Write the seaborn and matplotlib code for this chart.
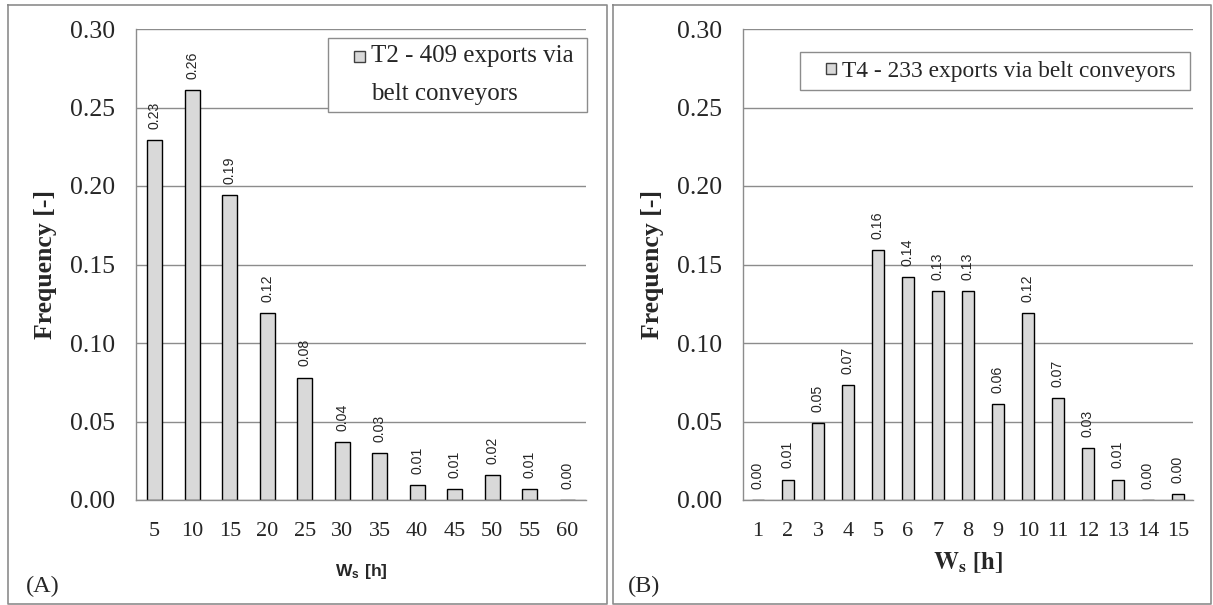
import numpy as np
import pandas as pd
import matplotlib
matplotlib.use("Agg")
import matplotlib.pyplot as plt
import seaborn as sns
from matplotlib.patches import Rectangle
from matplotlib.legend_handler import HandlerPatch
from matplotlib.lines import Line2D
from matplotlib.ticker import FixedLocator, FormatStrFormatter

# Terminal T2: waiting-time classes [h] and relative frequency
t2_bins = [5, 10, 15, 20, 25, 30, 35, 40, 45, 50, 55, 60]
t2_freq = [0.229, 0.261, 0.194, 0.119, 0.078, 0.037, 0.030, 0.0095, 0.007, 0.016, 0.007, 0.000]
t2_legend = "T2 - 409 exports via \nbelt conveyors"

# Terminal T4: waiting-time classes [h] and relative frequency
t4_bins = [1, 2, 3, 4, 5, 6, 7, 8, 9, 10, 11, 12, 13, 14, 15]
t4_freq = [0.000, 0.013, 0.049, 0.073, 0.159, 0.142, 0.133, 0.133, 0.061, 0.119, 0.065, 0.033, 0.013, 0.000, 0.004]
t4_legend = "T4 - 233 exports via belt conveyors "

y_ticks = [0.00, 0.05, 0.10, 0.15, 0.20, 0.25, 0.30]
y_label = "Frequency [-]"
x_label = r"$\mathbf{W_s\ [h]}$"
panel_tags = ["(A)", "(B)"]

sns.set_style("white")
plt.rcParams["font.family"] = ["Liberation Serif", "DejaVu Serif"]
plt.rcParams["mathtext.fontset"] = "custom"
plt.rcParams["mathtext.bf"] = "Liberation Sans:bold"
plt.rcParams["mathtext.rm"] = "Liberation Sans"

GRAY = "#8c8c8c"
BAR = "#d9d9d9"
W, H = 1213, 605
LINE_SPACING = 1.95

fig = plt.figure(figsize=(W / 100, H / 100), dpi=100)


def px_axes(x0, x1, y0, y1):
    return fig.add_axes([x0 / W, 1 - y1 / H, (x1 - x0) / W, (y1 - y0) / H])


def make_square_handle(n_lines):
    # the swatch sits beside the first line of a multi-line entry
    def square_handle(legend, orig_handle, xdescent, ydescent, width, height, fontsize):
        s = 0.45 * fontsize
        lift = (n_lines - 1) / 2 * 1.45 * fontsize
        return Rectangle((-xdescent + width - s, -ydescent + (height - s) / 2 + lift), s, s)
    return square_handle


def draw_panel(ax, bins, freq, legend_text, legend_anchor, legend_size, legend_pad,
               xlabel_font, xlabel_y):
    df = pd.DataFrame({"bin": [str(b) for b in bins], "freq": freq})
    sns.barplot(data=df, x="bin", y="freq", color=BAR, saturation=1, width=0.4,
                edgecolor="black", linewidth=1.0, ax=ax)
    n = len(bins)
    ax.bar_label(ax.containers[0], fmt="%.2f", rotation=90, padding=8,
                 fontsize=10.2, family="Liberation Sans")

    ax.set_xlim(-0.5, n - 0.5)
    ax.set_ylim(0, 0.30)
    ax.yaxis.set_major_locator(FixedLocator(y_ticks))
    ax.yaxis.set_major_formatter(FormatStrFormatter("%.2f"))
    ax.set_axisbelow(True)
    ax.grid(axis="y", color=GRAY, linewidth=1.0)
    ax.grid(axis="x", visible=False)
    for side in ("top", "right"):
        ax.spines[side].set_visible(False)
    for side in ("left", "bottom"):
        ax.spines[side].set_color(GRAY)
        ax.spines[side].set_linewidth(1.0)

    ax.set_xticks(np.arange(-0.5, n), minor=True)
    ax.tick_params(axis="x", which="major", length=0, pad=16, labelsize=16)
    ax.tick_params(axis="x", which="minor", length=5, width=1, color=GRAY, direction="out")
    ax.tick_params(axis="y", which="major", length=5.8, width=1, color=GRAY,
                   direction="out", pad=9, labelsize=18.5)

    ax.set_ylabel(y_label, fontsize=18.5, fontweight="bold")
    ax.yaxis.set_label_coords(-0.176, 0.5)

    if xlabel_font == "sans":
        ax.set_xlabel(x_label, fontsize=12.5)
    else:
        ax.set_xlabel(x_label, fontsize=18, math_fontfamily="stix")
    ax.xaxis.set_label_coords(0.5, xlabel_y)

    n_lines = legend_text.count("\n") + 1
    proxy = Rectangle((0, 0), 1, 1, facecolor=BAR, edgecolor="#404040", linewidth=1.0)
    leg = ax.legend([proxy], [legend_text], loc="upper right", bbox_to_anchor=legend_anchor,
                    fontsize=legend_size, frameon=True, fancybox=False, framealpha=1,
                    edgecolor=GRAY, borderpad=legend_pad, handlelength=1.2, handleheight=0.7,
                    handletextpad=0.25, borderaxespad=0,
                    handler_map={Rectangle: HandlerPatch(patch_func=make_square_handle(n_lines))})
    leg.get_frame().set_linewidth(1.0)
    for t in leg.get_texts():
        t.set_linespacing(LINE_SPACING)


ax_a = px_axes(136, 586, 29, 500)
draw_panel(ax_a, t2_bins, t2_freq, t2_legend, (1.002, 0.981), 18, 0.27, "sans", -0.1316)

ax_b = px_axes(743, 1193, 29, 500)
draw_panel(ax_b, t4_bins, t4_freq, t4_legend, (0.993, 0.951), 16.8, 0.35, "serif", -0.1062)

# panel tags
fig.text(26 / W, 1 - 586 / H, panel_tags[0], ha="left", va="center", fontsize=17.5)
fig.text(628 / W, 1 - 586 / H, panel_tags[1], ha="left", va="center", fontsize=17.5)


# panel frames
def frame(x0, x1, y0, y1):
    pts = [(x0, y0), (x1, y0), (x1, y1), (x0, y1), (x0, y0)]
    xs = [p[0] / W for p in pts]
    ys = [1 - p[1] / H for p in pts]
    fig.add_artist(Line2D(xs, ys, transform=fig.transFigure, color=GRAY, linewidth=1.2))


frame(7.5, 607, 4.5, 604)
frame(613, 1210.5, 4.5, 604)

fig.savefig("out.png", dpi=100)
